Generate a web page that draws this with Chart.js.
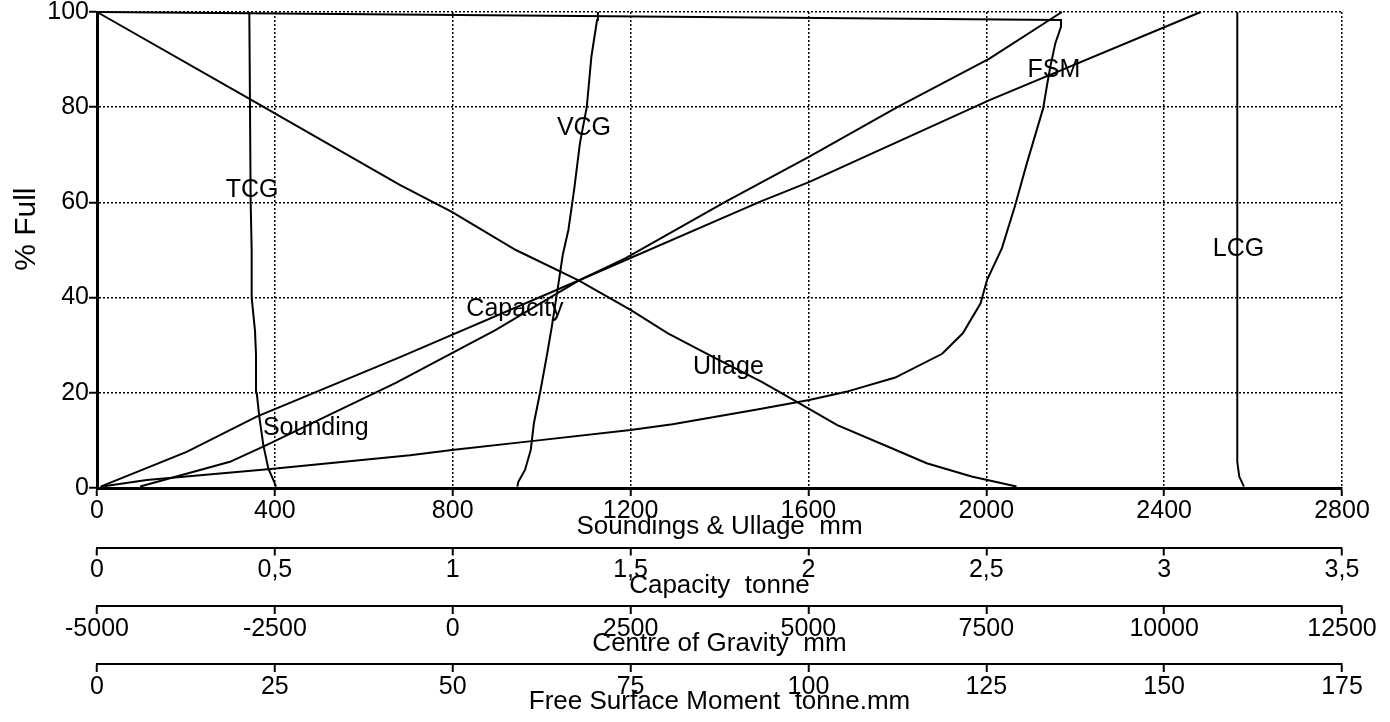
<!DOCTYPE html>
<html>
<head>
<meta charset="utf-8">
<title>Tank calibration curves</title>
<script src="https://cdn.jsdelivr.net/npm/chart.js@4/dist/chart.umd.min.js"></script>
<style>
  html, body { margin: 0; padding: 0; background: #ffffff; }
  #wrap { width: 1390px; height: 722px; position: relative; }
</style>
</head>
<body>
<div id="wrap"><canvas id="chart" width="1390" height="722"></canvas></div>
<script>
// Tank calibration: % full against sounding / ullage, capacity,
// centres of gravity and free surface moment.

// Ullage (mm) and % full
const ullageMm  = [0, 344, 681, 798, 942, 1083, 1200, 1284, 1384, 1495, 1574, 1665, 1786, 1866, 1967, 2068];
const ullagePct = [100, 81.7, 63.7, 58.0, 50.0, 43.6, 37.4, 32.5, 27.6, 22.3, 18.1, 13.2, 8.4, 5.2, 2.4, 0.3];

// Sounding (mm) and % full
const soundingMm  = [97, 299, 381, 672, 897, 1084, 1189, 1413, 1602, 1800, 2007, 2170];
const soundingPct = [0.3, 5.5, 9.0, 22.1, 33.2, 43.6, 48.3, 60.1, 69.6, 80.0, 90.2, 100];

// Capacity (tonne) and % full
const capacityT   = [0.01, 0.252, 0.449, 0.852, 1.354, 1.863, 2.003, 2.509, 3.103];
const capacityPct = [0.3, 7.6, 15.0, 27.5, 43.6, 60.1, 64.3, 81.5, 100];

// Transverse centre of gravity (mm) and % full
const tcgMm  = [-2484, -2522, -2592, -2662, -2719, -2755, -2765, -2779, -2826, -2826, -2840, -2859];
const tcgPct = [0.3, 1.7, 4.1, 9.0, 15.0, 20.0, 28.0, 33.0, 40.0, 50.0, 60.0, 100];

// Vertical centre of gravity (mm) and % full
const vcgMm  = [909, 922, 1016, 1097, 1141, 1235, 1329, 1393, 1487, 1547, 1626, 1706, 1788, 1885, 1949, 2029, 2041];
const vcgPct = [0.3, 1.3, 3.8, 8.0, 13.6, 20.6, 28.3, 33.9, 43.0, 49.0, 54.2, 62.6, 72.4, 80.1, 90.6, 98.3, 100];

// Longitudinal centre of gravity (mm) and % full
const lcgMm  = [11122, 11056, 11028, 11028];
const lcgPct = [0.3, 2.4, 5.5, 100];

// Free surface moment (tonne.mm) and % full
const fsmTm  = [0.7, 7.0, 24.4, 44.0, 49.9, 61.4, 75.0, 80.9, 92.8, 100.1, 105.3, 112.2, 118.8, 121.7, 124.2, 125.1, 127.2, 129.0, 130.7, 133.0, 133.5, 134.0, 134.7, 135.5, 135.5, 0];
const fsmPct = [0.3, 1.7, 4.0, 6.9, 8.0, 9.9, 12.2, 13.4, 16.5, 18.5, 20.2, 23.2, 28.2, 32.5, 38.8, 43.7, 50.4, 59.1, 68.2, 79.8, 84.3, 88.5, 93.4, 96.9, 98.3, 100];

// Tick labels of each axis
const soundingTicks = ['0', '400', '800', '1200', '1600', '2000', '2400', '2800'];
const capacityTicks = ['0', '0,5', '1', '1,5', '2', '2,5', '3', '3,5'];
const cgTicks       = ['-5000', '-2500', '0', '2500', '5000', '7500', '10000', '12500'];
const fsmTicks      = ['0', '25', '50', '75', '100', '125', '150', '175'];
const pctTicks      = ['0', '20', '40', '60', '80', '100'];

// Curve names written on the plot, placed in each curve's own units
const curveLabels = [
  { text: 'TCG',      axis: 'xCG',  x: -2821, y: 62.6 },
  { text: 'VCG',      axis: 'xCG',  x: 1845,  y: 75.6 },
  { text: 'Capacity', axis: 'xCap', x: 1.175, y: 37.6 },
  { text: 'Sounding', axis: 'x',    x: 492,   y: 12.6 },
  { text: 'Ullage',   axis: 'x',    x: 1420,  y: 25.4 },
  { text: 'FSM',      axis: 'xFSM', x: 134.5, y: 87.8 },
  { text: 'LCG',      axis: 'xCG',  x: 11045, y: 50.2 }
];

const FONT = '"Liberation Sans", Arial, Helvetica, sans-serif';
Chart.defaults.font.family = FONT;
Chart.defaults.color = '#000';

function pairs(xs, ys) {
  return xs.map((v, i) => ({ x: v, y: ys[i] }));
}

function curve(label, xs, ys, axisId) {
  return {
    label: label,
    data: pairs(xs, ys),
    xAxisID: axisId,
    yAxisID: 'y',
    borderColor: '#000',
    borderWidth: 2,
    pointRadius: 0,
    pointHoverRadius: 0,
    tension: 0,
    fill: false,
    clip: false
  };
}

const curveLabelPlugin = {
  id: 'curveLabels',
  afterDatasetsDraw(chart) {
    const ctx = chart.ctx;
    const ys = chart.scales.y;
    ctx.save();
    ctx.font = '25px ' + FONT;
    ctx.fillStyle = '#000';
    ctx.textAlign = 'center';
    ctx.textBaseline = 'middle';
    curveLabels.forEach(l => {
      const xs = chart.scales[l.axis];
      ctx.fillText(l.text, xs.getPixelForValue(l.x), ys.getPixelForValue(l.y));
    });
    ctx.restore();
  }
};

// One stacked horizontal axis below the plot
function bottomAxis(opts) {
  return {
    type: 'linear',
    position: 'bottom',
    weight: opts.weight,
    min: opts.min,
    max: opts.max,
    afterBuildTicks(scale) {
      const t = [];
      for (let v = opts.min; v <= opts.max + 1e-9; v += opts.step) t.push({ value: v });
      scale.ticks = t;
    },
    ticks: {
      autoSkip: false,
      maxRotation: 0,
      minRotation: 0,
      padding: 0,
      color: '#000',
      font: { size: 25 },
      callback: (v, i) => opts.labels[i]
    },
    grid: {
      display: true,
      drawOnChartArea: opts.gridOnArea,
      drawTicks: true,
      tickLength: 8,
      tickColor: '#000',
      tickWidth: 2,
      color: '#000',
      lineWidth: 1.5
    },
    border: {
      display: true,
      color: '#000',
      width: opts.borderWidth,
      dash: [2, 2]
    },
    title: {
      display: true,
      text: opts.title,
      color: '#000',
      font: { size: 26 },
      padding: { top: 0, bottom: 5 }
    },
    afterFit(scale) {
      scale.height = opts.height;
      scale.paddingLeft = 0;
      scale.paddingRight = 0;
    }
  };
}

new Chart(document.getElementById('chart'), {
  type: 'line',
  data: {
    datasets: [
      curve('Ullage', ullageMm, ullagePct, 'x'),
      curve('Sounding', soundingMm, soundingPct, 'x'),
      curve('Capacity', capacityT, capacityPct, 'xCap'),
      curve('TCG', tcgMm, tcgPct, 'xCG'),
      curve('VCG', vcgMm, vcgPct, 'xCG'),
      curve('LCG', lcgMm, lcgPct, 'xCG'),
      curve('FSM', fsmTm, fsmPct, 'xFSM')
    ]
  },
  options: {
    responsive: false,
    animation: false,
    devicePixelRatio: 1,
    parsing: true,
    layout: { padding: { top: 12, right: 48, bottom: 0, left: 0 } },
    plugins: {
      legend: { display: false },
      tooltip: { enabled: false },
      title: { display: false }
    },
    events: [],
    scales: {
      x: bottomAxis({ weight: 0, min: 0, max: 2800, step: 400, labels: soundingTicks,
                      title: 'Soundings & Ullage  mm', gridOnArea: true, borderWidth: 3, height: 59.5 }),
      xCap: bottomAxis({ weight: 1, min: 0, max: 3.5, step: 0.5, labels: capacityTicks,
                      title: 'Capacity  tonne', gridOnArea: false, borderWidth: 2, height: 58.5 }),
      xCG: bottomAxis({ weight: 2, min: -5000, max: 12500, step: 2500, labels: cgTicks,
                      title: 'Centre of Gravity  mm', gridOnArea: false, borderWidth: 2, height: 58 }),
      xFSM: bottomAxis({ weight: 3, min: 0, max: 175, step: 25, labels: fsmTicks,
                      title: 'Free Surface Moment  tonne.mm', gridOnArea: false, borderWidth: 2, height: 58 }),
      y: {
        type: 'linear',
        position: 'left',
        min: 0,
        max: 100,
        afterBuildTicks(scale) {
          scale.ticks = pctTicks.map(t => ({ value: Number(t) }));
        },
        ticks: {
          padding: 0,
          color: '#000',
          font: { size: 25 },
          callback: (v, i) => pctTicks[i]
        },
        grid: {
          display: true,
          drawTicks: true,
          tickLength: 8,
          tickColor: '#000',
          tickWidth: 2,
          color: '#000',
          lineWidth: 1.5
        },
        border: { display: true, color: '#000', width: 3, dash: [2, 2] },
        title: {
          display: true,
          text: '     % Full',
          color: '#000',
          font: { size: 30 },
          padding: { top: 9, bottom: 0 }
        },
        afterFit(scale) {
          scale.width = 97;
          scale.paddingTop = 0;
          scale.paddingBottom = 0;
        }
      }
    }
  },
  plugins: [curveLabelPlugin]
});
</script>
</body>
</html>
